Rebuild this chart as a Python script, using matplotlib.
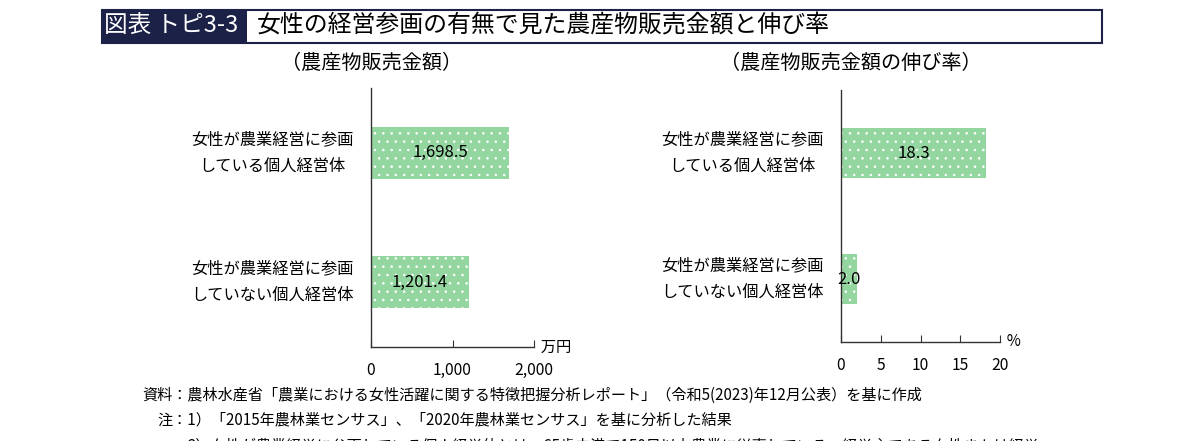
import matplotlib.pyplot as plt
from matplotlib.patches import Rectangle

plt.rcParams['font.family'] = ['Noto Sans CJK JP', 'DejaVu Sans']
plt.rcParams['hatch.linewidth'] = 0.6

# データ
kubun = ['女性が農業経営に参画\nしていない個人経営体', '女性が農業経営に参画\nしている個人経営体']
kingaku = [1201.4, 1698.5]          # 万円
nobiritsu = [2.0, 18.3]             # %
kingaku_labels = ['1,201.4', '1,698.5']
nobi_labels = ['2.0', '18.3']
kingaku_ticks = [0, 1000, 2000]
kingaku_ticklabels = ['0', '1,000', '2,000']
nobi_ticks = [0, 5, 10, 15, 20]

midori = '#93d6a0'
kon = '#1c2148'

W, H = 1193, 441
fig = plt.figure(figsize=(W / 100, H / 100), dpi=100)


def px(x0, y0, x1, y1):
    # ピクセル座標 -> figure座標
    return [x0 / W, 1 - y1 / H, (x1 - x0) / W, (y1 - y0) / H]


# タイトル枠
fig.patches.append(Rectangle((102 / W, 1 - 43 / H), 145 / W, 33 / H, transform=fig.transFigure,
                             facecolor=kon, edgecolor='none'))
fig.patches.append(Rectangle((102 / W, 1 - 43 / H), 1000 / W, 33 / H, transform=fig.transFigure,
                             facecolor='none', edgecolor=kon, linewidth=1.5))
fig.text(104 / W, 1 - 26.5 / H, '図表 トピ3-3', color='white', fontsize=17, va='center', ha='left')
fig.text(257 / W, 1 - 26.5 / H, '女性の経営参画の有無で見た農産物販売金額と伸び率', color='black',
         fontsize=17.2, va='center', ha='left')


def draw(ax, vals, labels, ticks, ticklabels, xmax, unit):
    bars = ax.barh([0, 1], vals, height=0.4, color=midori, edgecolor='white', linewidth=0, hatch='..')
    for b, v, t in zip(bars, vals, labels):
        ax.text(v / 2, b.get_y() + b.get_height() / 2, t, ha='center', va='center', fontsize=12)
    ax.set_xlim(0, xmax)
    ax.set_ylim(-0.5, 1.5)
    ax.set_xticks(ticks)
    ax.set_xticklabels(ticklabels, fontsize=11.3)
    ax.set_yticks([0, 1])
    ax.set_yticklabels(kubun, fontsize=11.7, linespacing=1.7, ha='center', va='center')
    ax.tick_params(axis='y', length=0, pad=71)
    ax.tick_params(axis='x', direction='in', length=5, pad=11, color='#333333')
    for s in ['top', 'right']:
        ax.spines[s].set_visible(False)
    for s in ['left', 'bottom']:
        ax.spines[s].set_color('#333333')
        ax.spines[s].set_linewidth(1.0)
    ax.text(1.0, 0, '  ' + unit, transform=ax.transAxes, ha='left', va='center', fontsize=11)


ax1 = fig.add_axes(px(371, 88, 534, 347))
draw(ax1, kingaku, kingaku_labels, kingaku_ticks, kingaku_ticklabels, 2000, '万円')

ax2 = fig.add_axes(px(841, 90, 1000, 342))
draw(ax2, nobiritsu, nobi_labels, nobi_ticks, [str(t) for t in nobi_ticks], 20, '%')

fig.text(372 / W, 1 - 63 / H, '（農産物販売金額）', ha='center', va='center', fontsize=14.5)
fig.text(851 / W, 1 - 63 / H, '（農産物販売金額の伸び率）', ha='center', va='center', fontsize=14.5)

# 注記
fig.text(142 / W, 1 - 395 / H,
         '資料：農林水産省「農業における女性活躍に関する特徴把握分析レポート」（令和5(2023)年12月公表）を基に作成',
         ha='left', va='center', fontsize=10.9)
fig.text(157 / W, 1 - 420 / H,
         '注：1）「2015年農林業センサス」、「2020年農林業センサス」を基に分析した結果',
         ha='left', va='center', fontsize=10.9)
fig.text(187 / W, 1 - 446 / H,
         '2）女性が農業経営に参画している個人経営体とは、65歳未満で150日以上農業に従事している、経営主である女性または経営',
         ha='left', va='center', fontsize=10.9)

fig.savefig('out.png', dpi=100)
